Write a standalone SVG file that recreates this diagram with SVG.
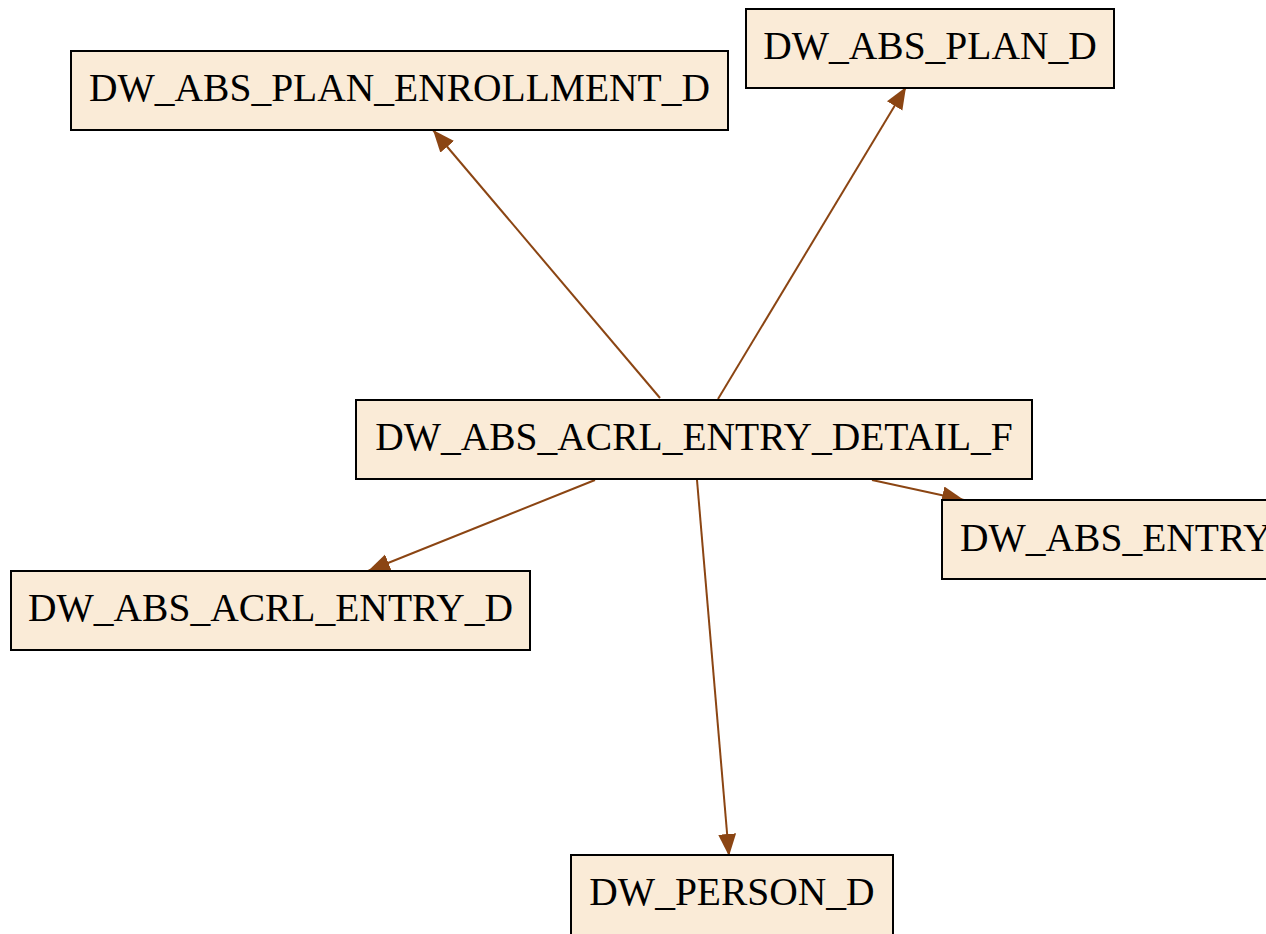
<svg xmlns="http://www.w3.org/2000/svg" width="1266" height="934" viewBox="0 0 1266 934">
<style>
.node rect{fill:#FAEBD7;stroke:#000;stroke-width:2}
.node text{font-family:"Liberation Serif","Times New Roman",serif;font-size:39.5px;fill:#000;text-anchor:middle}
.edges path{fill:none;stroke:#8B4513;stroke-width:2}
</style>
<defs>
<marker id="ah" markerUnits="userSpaceOnUse" markerWidth="24" markerHeight="20" refX="22" refY="9" orient="auto">
<polygon points="0,0 22,9 0,18" fill="#8B4513"/>
</marker>
</defs>
<rect width="1266" height="934" fill="#fff"/>
<g class="edges">
<path d="M660,398 L433,130" marker-end="url(#ah)"/>
<path d="M718,399 L906,87" marker-end="url(#ah)"/>
<path d="M595,480 L368,571" marker-end="url(#ah)"/>
<path d="M872,480 L964,500" marker-end="url(#ah)"/>
<path d="M697,480 L729,856" marker-end="url(#ah)"/>
</g>
<g id="plan_d" class="node"><rect x="746" y="9" width="368" height="79"/><text x="930" y="59">DW_ABS_PLAN_D</text></g>
<g id="plan_enrollment_d" class="node"><rect x="71" y="51" width="657" height="79"/><text x="399.5" y="101">DW_ABS_PLAN_ENROLLMENT_D</text></g>
<g id="acrl_entry_detail_f" class="node"><rect x="356" y="400" width="676" height="79"/><text x="694" y="450">DW_ABS_ACRL_ENTRY_DETAIL_F</text></g>
<g id="entry_d" class="node"><rect x="942" y="500" width="400" height="79"/><text x="960" y="551" style="text-anchor:start">DW_ABS_ENTRY_D</text></g>
<g id="acrl_entry_d" class="node"><rect x="11" y="571" width="519" height="79"/><text x="270.5" y="621">DW_ABS_ACRL_ENTRY_D</text></g>
<g id="person_d" class="node"><rect x="571" y="855" width="322" height="80"/><text x="732" y="905">DW_PERSON_D</text></g>
</svg>
